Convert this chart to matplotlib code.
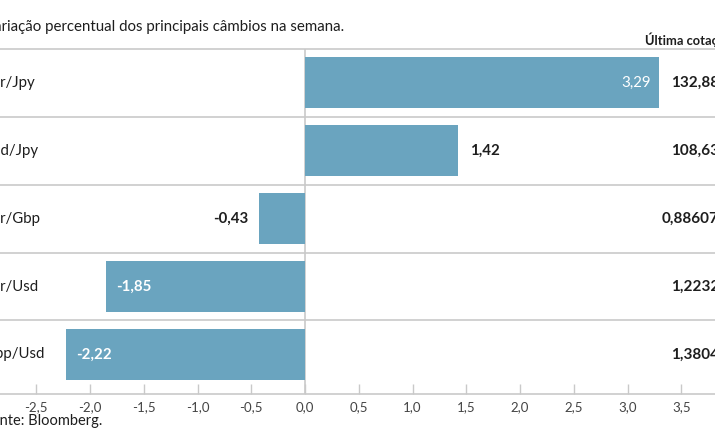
import matplotlib
matplotlib.use("Agg")
import matplotlib.pyplot as plt

# dados
pares = ["Eur/Jpy", "Usd/Jpy", "Eur/Gbp", "Eur/Usd", "Gbp/Usd"]
variacao = [3.29, 1.42, -0.43, -1.85, -2.22]
cotacao = ["132,88", "108,63", "0,88607", "1,2232", "1,3804"]
ticks = [-2.5, -2.0, -1.5, -1.0, -0.5, 0.0, 0.5, 1.0, 1.5, 2.0, 2.5, 3.0, 3.5]

plt.rcParams["font.family"] = ["Lato", "DejaVu Sans"]

cor_barra = "#6aa4bf"
cor_linha = "#c9c9c9"
cor_texto = "#1e1e1e"

W, H = 715, 445
fig = plt.figure(figsize=(W / 100, H / 100), dpi=100)
ax = fig.add_axes([0, (H - 394) / H, 1, (394 - 49) / H])

px = 107.5  # pixels por unidade
ax.set_xlim(-305 / px, (W - 305) / px)
ax.set_ylim(4.583, -0.5)

y = list(range(len(pares)))
ax.barh(y, variacao, height=0.75, color=cor_barra, zorder=2)

# linhas entre as linhas da tabela
for k in range(len(pares) - 1):
    ax.axhline(k + 0.5, color=cor_linha, lw=1.2, zorder=1)
ax.axvline(0, color=cor_linha, lw=1.2, zorder=1)

for s in ["left", "right"]:
    ax.spines[s].set_visible(False)
ax.spines["top"].set_color(cor_linha)
ax.spines["top"].set_linewidth(1.2)
ax.spines["bottom"].set_color(cor_linha)
ax.spines["bottom"].set_linewidth(1.2)

ax.set_yticks([])
ax.set_xticks(ticks)
ax.set_xticklabels([f"{t:.1f}".replace(".", ",") for t in ticks])
ax.tick_params(axis="x", direction="in", length=7, width=1, color=cor_linha,
               labelsize=9.5, labelcolor="#444444", pad=5)

# rótulos das barras
for i, v in enumerate(variacao):
    txt = f"{v:.2f}".replace(".", ",")
    if abs(v) > 1.5:
        cor, peso = "white", ("normal" if v > 3 else "bold")
        dx, ha = (-8, "right") if v > 0 else (10, "left")
    else:
        cor, peso = cor_texto, "bold"
        dx, ha = (12, "left") if v > 0 else (-10, "right")
    ax.annotate(txt, (v, i), xytext=(dx, 0), textcoords="offset pixels",
                ha=ha, va="center", color=cor, fontsize=10.8, fontweight=peso, zorder=3)

# nomes dos pares e última cotação
tr = ax.get_yaxis_transform()
for i, (p, c) in enumerate(zip(pares, cotacao)):
    ax.text(-16 / W, i, p, transform=tr, ha="left", va="center",
            fontsize=10.8, color=cor_texto, clip_on=False)
    ax.text(719 / W, i, c, transform=tr, ha="right", va="center",
            fontsize=11, fontweight="bold", color=cor_texto, clip_on=False)

fig.text(645 / W, 1 - 40 / H, "Última cotação", ha="left", va="center",
         fontsize=9.3, fontweight="bold", color=cor_texto)
fig.text(-16 / W, 1 - 27 / H, "Variação percentual dos principais câmbios na semana.",
         ha="left", va="center", fontsize=10.8, color=cor_texto)
fig.text(-17 / W, 1 - 421 / H, "Fonte: Bloomberg.", ha="left", va="center",
         fontsize=10.5, color=cor_texto)

fig.savefig("out.png", dpi=100)
